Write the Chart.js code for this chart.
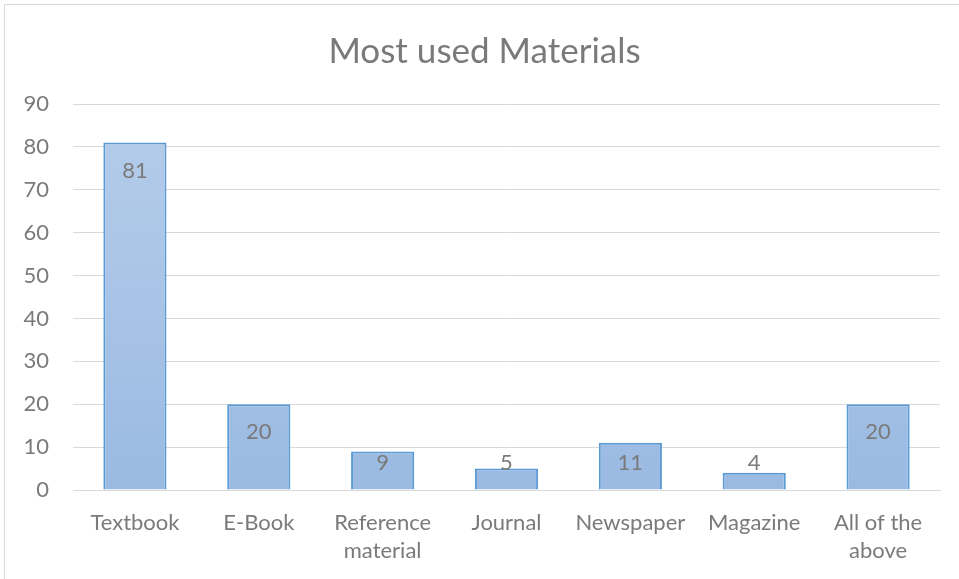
<!DOCTYPE html>
<html>
<head>
<meta charset="utf-8">
<script src="https://cdn.jsdelivr.net/npm/chart.js@4/dist/chart.umd.min.js"></script>
<style>
  html, body { margin: 0; padding: 0; background: #fff; }
  #wrap {
    position: absolute; left: 4px; top: 4px; width: 960px; height: 580px;
    border: 1px solid #d9d9d9; box-sizing: border-box;
  }
  canvas { display: block; }
</style>
</head>
<body>
<div id="wrap"><canvas id="c" width="955" height="575"></canvas></div>
<script>
const categories = [
  "Textbook", "E-Book", ["Reference", "material"], "Journal",
  "Newspaper", "Magazine", ["All of the", "above"]
];
const counts = [81, 20, 9, 5, 11, 4, 20];
const yTicks = [0, 10, 20, 30, 40, 50, 60, 70, 80, 90];

const FONT = "Lato, 'Open Sans', sans-serif";
const GREY = "#7a7a7a";

// fill each bar with a soft vertical gradient, lighter on top
function barFill(context) {
  const { chart } = context;
  const area = chart.chartArea;
  if (!area) return "#a7c3e6";
  const g = chart.ctx.createLinearGradient(0, area.top, 0, area.bottom);
  g.addColorStop(0, "#b6cdea");
  g.addColorStop(1, "#9abae2");
  return g;
}

// value labels near the top of each bar; short bars keep them at a fixed height
const insideLabels = {
  id: "insideLabels",
  afterLayout(chart) {
    // center the title over the whole frame rather than the padded box
    if (chart.titleBlock) chart.titleBlock.left = 24;
  },
  afterDatasetsDraw(chart) {
    const ctx = chart.ctx;
    const meta = chart.getDatasetMeta(0);
    ctx.save();
    ctx.font = "22px " + FONT;
    ctx.fillStyle = GREY;
    ctx.textAlign = "center";
    ctx.textBaseline = "middle";
    meta.data.forEach((bar, i) => {
      const y = Math.min(bar.y + 28, bar.base - 27);
      ctx.fillText(String(counts[i]), bar.x, y);
    });
    ctx.restore();
  },
};

new Chart(document.getElementById("c"), {
  type: "bar",
  data: {
    labels: categories,
    datasets: [{
      data: counts,
      backgroundColor: barFill,
      borderColor: "#5b9bd5",
      borderWidth: 2,
      borderSkipped: "bottom",
      categoryPercentage: 1,
      barPercentage: 0.51,
    }],
  },
  options: {
    responsive: false,
    animation: false,
    layout: { padding: { left: 0, right: 20, top: 0, bottom: 0 } },
    scales: {
      x: {
        grid: { display: false, drawTicks: false },
        border: { color: "#d9d9d9", width: 1 },
        ticks: {
          color: GREY, font: { family: FONT, size: 22, lineHeight: 1.27 },
          padding: 19, maxRotation: 0, autoSkip: false,
        },
        afterFit(axis) {
          axis.height = 90;
          axis.paddingLeft = 0;
          axis.paddingRight = 0;
        },
      },
      y: {
        min: 0,
        max: 90,
        afterBuildTicks(axis) { axis.ticks = yTicks.map(v => ({ value: v })); },
        grid: { color: "#d9d9d9", lineWidth: 1, drawTicks: false },
        border: { display: false },
        ticks: { color: GREY, font: { family: FONT, size: 22 }, padding: 24 },
        afterFit(axis) {
          axis.width = 68;
          axis.paddingTop = 0;
          axis.paddingBottom = 0;
        },
      },
    },
    plugins: {
      legend: { display: false },
      tooltip: { enabled: false },
      title: {
        display: true,
        text: "Most used Materials",
        color: GREY,
        font: { family: FONT, size: 35, weight: "normal" },
        padding: { top: 26, bottom: 31 },
      },
    },
  },
  plugins: [insideLabels],
});
</script>
</body>
</html>
